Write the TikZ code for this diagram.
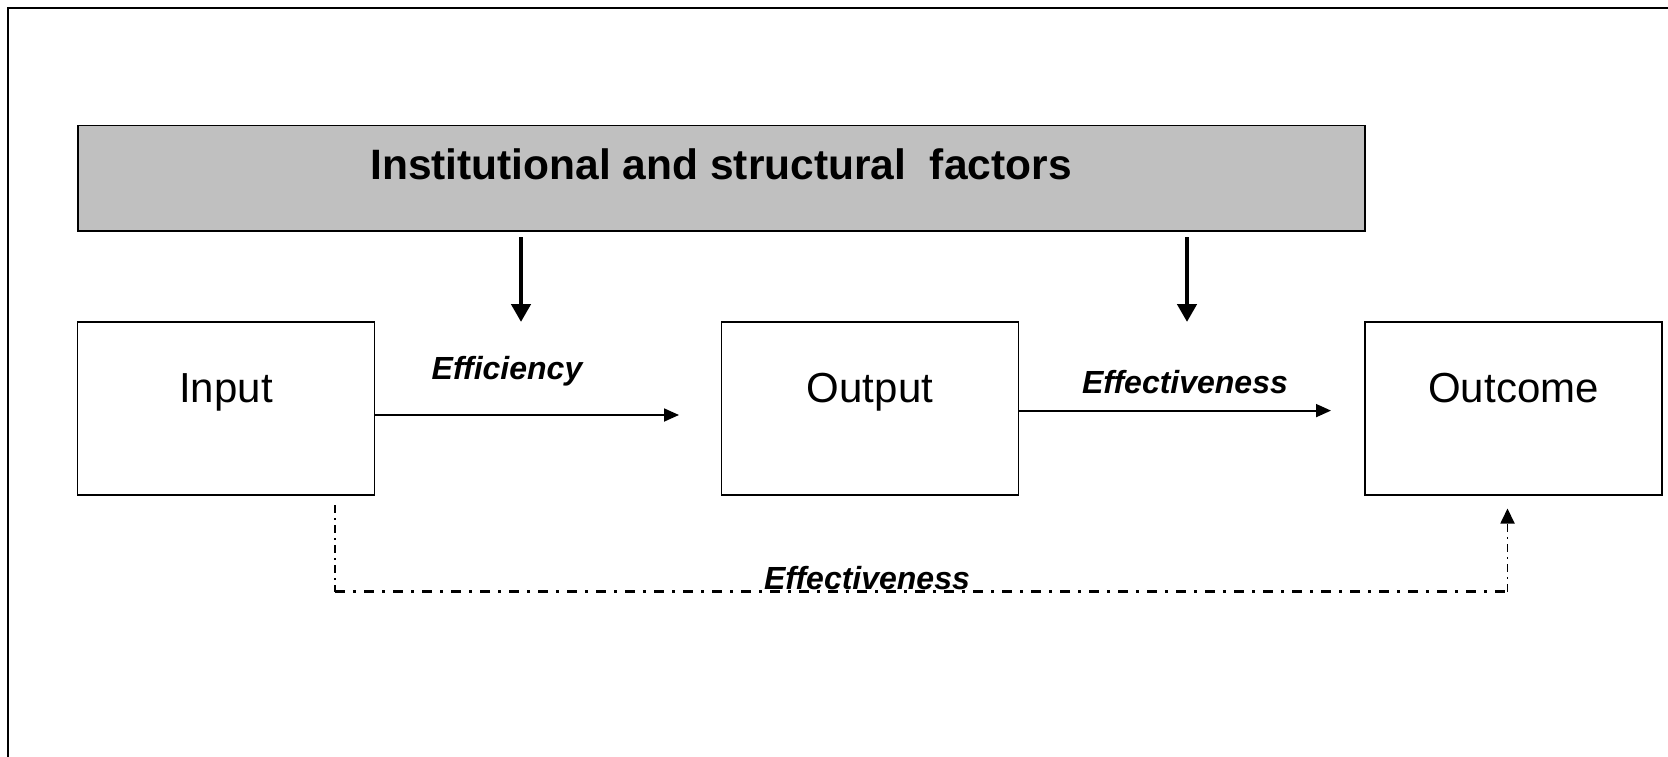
\documentclass[tikz,border=0pt]{standalone}
\usepackage{fontspec}
\setmainfont{Liberation Sans}
\usetikzlibrary{arrows.meta}
\definecolor{boxgray}{RGB}{192,192,192}
\tikzset{
  boxnode/.style={draw=black, line width=1.8pt, minimum width=297pt, minimum height=173pt, inner sep=0pt},
  boxtext/.style={anchor=base, inner sep=0pt, font=\fontsize{42}{50}\selectfont},
  lbl/.style={anchor=base, inner sep=0pt, font=\fontsize{32}{38}\selectfont\bfseries\itshape},
  thinarrow/.style={line width=1.8pt, -{Triangle[length=15pt,width=13pt]}},
  thickarrow/.style={line width=4.5pt, -{Triangle[length=18pt,width=19pt]}},
  dashdotv/.style={line width=1.8pt, dash pattern=on 8pt off 5pt on 2pt off 5pt},
  dashdoth/.style={line width=3pt, dash pattern=on 10pt off 8pt on 3pt off 8pt}
}
\begin{document}
\begin{tikzpicture}[x=1pt,y=-1pt]
\useasboundingbox (0,0) rectangle (1668,757);
% outer frame (only left and top edges visible)
\draw[line width=2.5pt] (8,757) -- (8,8) -- (1668,8);
% institutional box
\node[draw=black, fill=boxgray, line width=1.8pt, minimum width=1287pt, minimum height=105.5pt, inner sep=0pt] (inst) at (721.35,178.25) {};
\node[anchor=base, inner sep=0pt, font=\fontsize{42.5}{50}\selectfont\bfseries] (title) at (721,179) {Institutional and structural\ \ factors};
% boxes
\node[boxnode] (in) at (226,408.5) {};
\node[boxnode] (out) at (870,408.5) {};
\node[boxnode] (oc) at (1513.5,408.5) {};
\node[boxtext] (intext) at (226,402) {Input};
\node[boxtext] (outtext) at (870,402) {Output};
\node[boxtext] (octext) at (1513.5,402) {Outcome};
% down arrows
\coordinate (d1s) at (521,237);
\coordinate (d1e) at (521,322);
\coordinate (d2s) at (1187,237);
\coordinate (d2e) at (1187,322);
\draw[thickarrow] (d1s) -- (d1e);
\draw[thickarrow] (d2s) -- (d2e);
% efficiency arrow
\coordinate (e1e) at (679,415);
\draw[thinarrow] (in.east |- e1e) -- (e1e);
\node[lbl] (eff) at (507,379.5) {Efficiency};
% effectiveness arrow
\coordinate (e2e) at (1331,410.6);
\draw[thinarrow] (out.east |- e2e) -- (e2e);
\node[lbl] (effv) at (1185,393.5) {Effectiveness};
% dash-dot connector
\coordinate (b1) at (335,505);
\coordinate (b2) at (335,591.5);
\coordinate (b3) at (1507.5,591.5);
\coordinate (b4) at (1507.5,508.5);
\draw[dashdotv] (b1) -- (b2);
\draw[dashdoth] (b2) -- (b3);
\draw[dashdotv, -{Triangle[length=15pt,width=14pt]}] (b3) -- (b4);
\node[lbl] (effb) at (867,589) {Effectiveness};
\end{tikzpicture}
\end{document}
